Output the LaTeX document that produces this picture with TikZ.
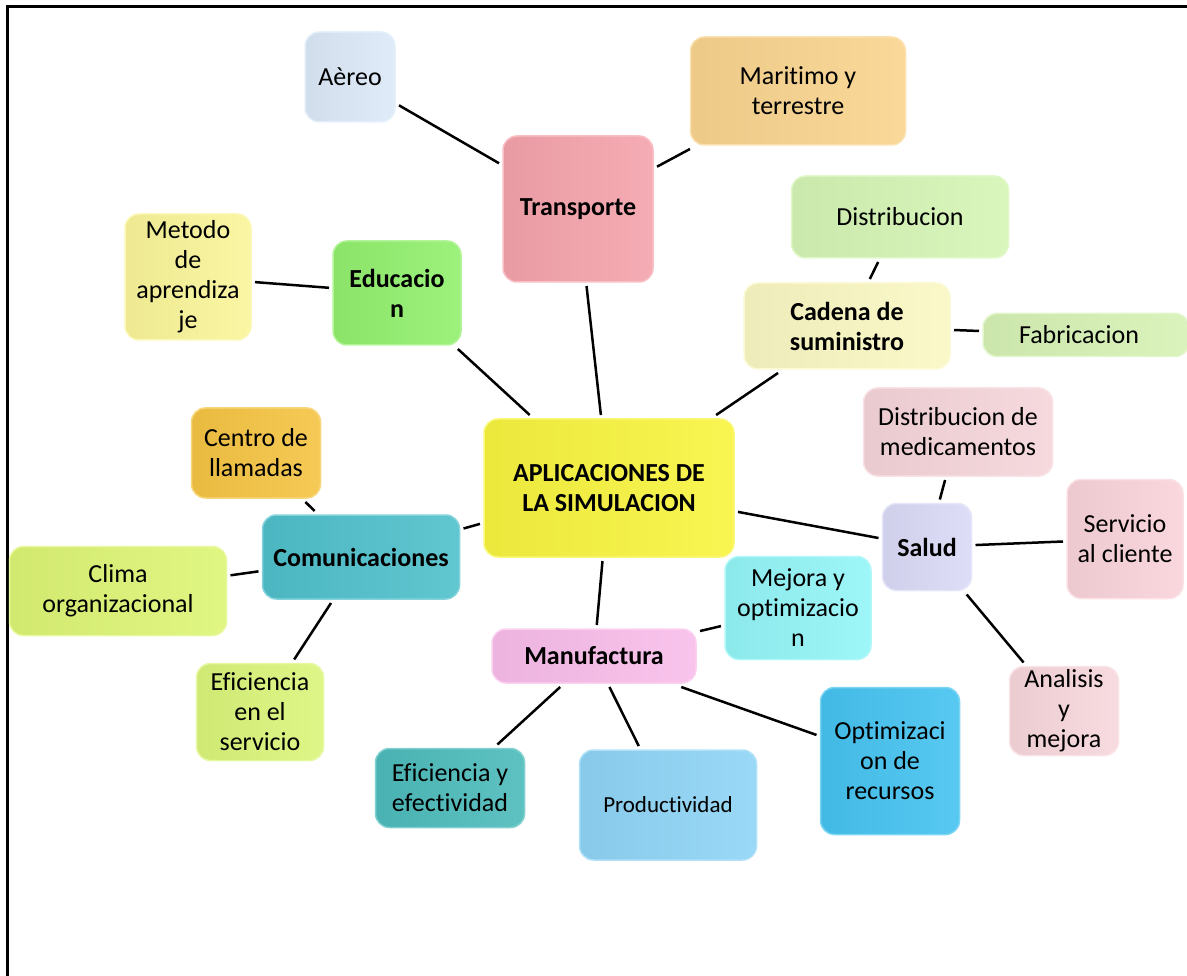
\documentclass[tikz,border=0pt]{standalone}
\usepackage{fontspec}
\setmainfont{Carlito}[Ligatures=NoCommon]

\definecolor{aereo}{HTML}{DCE9F8}
\definecolor{maritimo}{HTML}{F9D48E}
\definecolor{transporte}{HTML}{F5A3AC}
\definecolor{distrib}{HTML}{D5F5B5}
\definecolor{metodo}{HTML}{FAF599}
\definecolor{educacion}{HTML}{92F06E}
\definecolor{cadena}{HTML}{FAF8C3}
\definecolor{fabric}{HTML}{D6F2B5}
\definecolor{central}{HTML}{F8F43F}
\definecolor{medic}{HTML}{F5D5DA}
\definecolor{llamadas}{HTML}{F5C443}
\definecolor{comunic}{HTML}{4FC0CB}
\definecolor{salud}{HTML}{DADAF7}
\definecolor{servicio}{HTML}{F9D3DA}
\definecolor{clima}{HTML}{DDF575}
\definecolor{mejora}{HTML}{93F5F7}
\definecolor{manuf}{HTML}{F8BDEA}
\definecolor{efserv}{HTML}{DAF57A}
\definecolor{analisis}{HTML}{F7D7DC}
\definecolor{optim}{HTML}{45C3F0}
\definecolor{efect}{HTML}{4DBBBB}
\definecolor{product}{HTML}{8FD4F6}

\begin{document}
\begin{tikzpicture}[x=1pt, y=-1pt]

\clip (0, 0) rectangle (1187, 976) ;

% frame

\draw [line width=3pt] (7, 976) -- (7, 7) -- (1187, 7) ;

% boxes

\tikzstyle{idea box} =
	[rounded corners=14pt, line width=1.5pt, align=center, inner sep=2pt, outer sep=4pt,
	 left color=#1!95!black, right color=#1!90!white, draw=#1!70!white,
	 font=\fontsize{26}{30}\selectfont]
\tikzstyle{topic box} = [font=\fontsize{26}{30}\selectfont\bfseries]
\tikzstyle{link line} = [line width=2.5pt, color=black]

% central idea

\node [idea box=central, topic box, minimum width=250, minimum height=138]
	(simul) at (609, 488) {APLICACIONES DE\\LA SIMULACION} ;

% transporte

\node [idea box=transporte, topic box, minimum width=150, minimum height=146]
	(transp) at (578, 209) {Transporte} ;
\node [idea box=aereo, minimum width=90, minimum height=90]
	(aereo) at (350, 77) {Aèreo} ;
\node [idea box=maritimo, minimum width=215, minimum height=108]
	(marit) at (798, 91) {Maritimo y\\terrestre} ;

% educacion

\node [idea box=educacion, topic box, minimum width=128, minimum height=104]
	(educ) at (397, 293) {Educacio\\n} ;
\node [idea box=metodo, minimum width=126, minimum height=126]
	(metodo) at (188, 277) {Metodo\\de\\aprendiza\\je} ;

% cadena de suministro

\node [idea box=cadena, topic box, minimum width=206, minimum height=86]
	(cadena) at (847, 326) {Cadena de\\suministro} ;
\node [idea box=distrib, minimum width=217, minimum height=82]
	(distrib) at (900, 217) {Distribucion} ;
\node [idea box=fabric, minimum width=206, minimum height=43]
	(fabric) at (1086, 335) {\hspace{-14pt}Fabricacion} ;

% salud

\node [idea box=salud, topic box, minimum width=89, minimum height=87]
	(salud) at (927, 547) {Salud} ;
\node [idea box=medic, minimum width=189, minimum height=88]
	(medic) at (958, 432) {Distribucion de\\medicamentos} ;
\node [idea box=servicio, minimum width=116, minimum height=119]
	(servic) at (1125, 539) {Servicio\\al cliente} ;
\node [idea box=analisis, minimum width=109, minimum height=89]
	(analis) at (1064, 711) {Analisis\\y\\mejora} ;

% comunicaciones

\node [idea box=comunic, topic box, minimum width=197, minimum height=84]
	(comun) at (361, 557) {Comunicaciones} ;
\node [idea box=llamadas, minimum width=129, minimum height=90]
	(llamad) at (256, 453) {Centro de\\llamadas} ;
\node [idea box=clima, minimum width=217, minimum height=89]
	(clima) at (118, 591) {Clima\\organizacional} ;
\node [idea box=efserv, minimum width=127, minimum height=97]
	(efserv) at (260, 712) {Eficiencia\\en el\\servicio} ;

% manufactura

\node [idea box=manuf, topic box, minimum width=204, minimum height=54]
	(manuf) at (594, 656) {Manufactura} ;
\node [idea box=mejora, minimum width=146, minimum height=103]
	(mejora) at (798, 608) {Mejora y\\optimizacio\\n} ;
\node [idea box=efect, minimum width=149, minimum height=79]
	(efect) at (450, 788) {Eficiencia y\\efectividad} ;
\node [idea box=product, minimum width=177, minimum height=110,
	font=\fontsize{23}{27}\selectfont]
	(product) at (668, 805) {Productividad} ;
\node [idea box=optim, minimum width=139, minimum height=147]
	(optim) at (890, 761) {Optimizaci\\on de\\recursos} ;

% links

\draw [link line] (simul) -- (transp) ;
\draw [link line] (transp) -- (aereo) ;
\draw [link line] (transp) -- (marit) ;
\draw [link line] (simul) -- (educ) ;
\draw [link line] (educ) -- (metodo) ;
\draw [link line] (simul) -- (cadena) ;
\draw [link line] (cadena) -- (distrib) ;
\draw [link line] (cadena) -- (fabric) ;
\draw [link line] (simul) -- (salud) ;
\draw [link line] (salud) -- (medic) ;
\draw [link line] (salud) -- (servic) ;
\draw [link line] (salud) -- (analis) ;
\draw [link line] (simul) -- (comun) ;
\draw [link line] (comun) -- (llamad) ;
\draw [link line] (comun) -- (clima) ;
\draw [link line] (comun) -- (efserv) ;
\draw [link line] (simul) -- (manuf) ;
\draw [link line] (manuf) -- (mejora) ;
\draw [link line] (manuf) -- (efect) ;
\draw [link line] (manuf) -- (product) ;
\draw [link line] (manuf) -- (optim) ;

\end{tikzpicture}
\end{document}
